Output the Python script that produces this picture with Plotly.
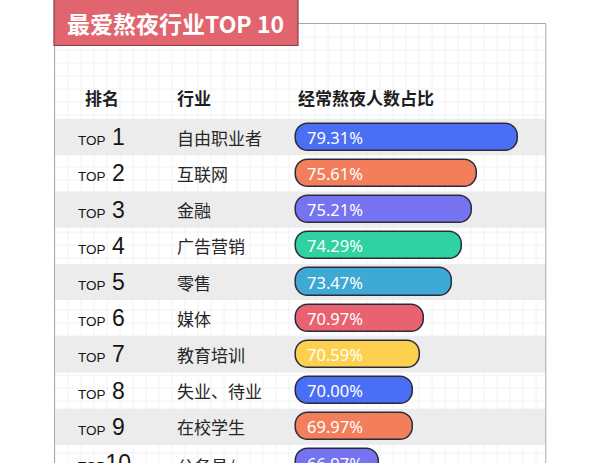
import plotly.graph_objects as go

# ---------------- data ----------------
ranks = [1, 2, 3, 4, 5, 6, 7, 8, 9, 10]
industries = ["自由职业者", "互联网", "金融", "广告营销", "零售", "媒体",
              "教育培训", "失业、待业", "在校学生", "公务员/事业单位"]
values = [79.31, 75.61, 75.21, 74.29, 73.47, 70.97, 70.59, 70.00, 69.97, 66.97]
title_text = "最爱熬夜行业TOP 10"
headers = ["排名", "行业", "经常熬夜人数占比"]

# ---------------- style ----------------
W, H = 600, 463
palette = ["#4A6EF4", "#F27E5C", "#7673F1", "#2FD2A0", "#3DA9D4", "#E8636F", "#FDD14F"]
bar_colors = [palette[i % len(palette)] for i in range(len(ranks))]
BASE = 59.5            # visual start of the bars (truncated axis)
XRANGE = [33.2, 86.6]
YRANGE = [10.0, -2.79]
CJK = "Noto Sans CJK SC"


def px(x):
    return x / W


def py(y):
    return 1 - y / H


fig = go.Figure()

fig.add_trace(go.Bar(
    y=ranks,
    x=[v - BASE for v in values],
    base=BASE,
    orientation="h",
    width=0.75,
    marker=dict(color=bar_colors, line=dict(color="#2A2B3D", width=1.5), cornerradius=13),
    customdata=values,
    hovertemplate="%{customdata:.2f}%<extra></extra>",
    showlegend=False,
))

shapes = []
# faint grid inside the card
step = 13
gx = 55
while gx < 546:
    shapes.append(dict(type="line", xref="paper", yref="paper", x0=px(gx), x1=px(gx),
                       y0=py(24), y1=py(H + 5), line=dict(color="#F2F2F2", width=1), layer="below"))
    gx += step
gy = 24 + step
while gy < H + 5:
    shapes.append(dict(type="line", xref="paper", yref="paper", x0=px(55), x1=px(545),
                       y0=py(gy), y1=py(gy), line=dict(color="#F2F2F2", width=1), layer="below"))
    gy += step

# alternating row bands
for r in ranks:
    if r % 2 == 1:
        shapes.append(dict(type="rect", xref="paper", yref="y", x0=px(55), x1=px(545.5),
                           y0=r - 0.5, y1=r + 0.5, fillcolor="#ECECEC", line=dict(width=0),
                           layer="below"))

# card border
shapes.append(dict(type="rect", xref="paper", yref="paper", x0=px(54.5), x1=px(545.8),
                   y0=py(23.5), y1=py(H + 10), line=dict(color="#A9A9A9", width=1),
                   fillcolor="rgba(0,0,0,0)", layer="above"))
# title banner
shapes.append(dict(type="rect", xref="paper", yref="paper", x0=px(54), x1=px(298),
                   y0=py(-3), y1=py(45.5), fillcolor="#E0656F",
                   line=dict(color="#8E3C44", width=1.2), layer="above"))

annotations = []
annotations.append(dict(text="<b>" + title_text + "</b>", xref="paper", yref="paper",
                        x=px(175), y=py(22.5), showarrow=False, xanchor="center", yanchor="middle",
                        font=dict(family=CJK, size=23, color="#FFFFFF")))

header_x = [83, 175, 296]
for hx, ht in zip(header_x, headers):
    annotations.append(dict(text="<b>" + ht + "</b>", xref="paper", yref="paper",
                            x=px(hx), y=py(97), showarrow=False, xanchor="left", yanchor="middle",
                            font=dict(family=CJK, size=17, color="#1E1E1E")))

for r, name, v in zip(ranks, industries, values):
    annotations.append(dict(
        text="<span style='font-size:13.5px'>TOP</span><span style='font-size:23px'> " + str(r) + "</span>"
        if r < 10 else
        "<span style='font-size:13.5px'>TOP</span><span style='font-size:23px'>" + str(r) + "</span>",
        xref="paper", yref="y", x=px(76), y=r, showarrow=False, xanchor="left", yanchor="middle",
        font=dict(family="Liberation Sans", size=23, color="#151515")))
    if "/" in name:
        a, b = name.split("/", 1)
        annotations.append(dict(text=a + "/<br>" + b, xref="paper", yref="y", x=px(175), y=r,
                                yshift=12, showarrow=False, xanchor="left", yanchor="top",
                                align="left", font=dict(family=CJK, size=17, color="#262626")))
    else:
        annotations.append(dict(text=name, xref="paper", yref="y", x=px(175), y=r,
                                showarrow=False, xanchor="left", yanchor="middle",
                                font=dict(family=CJK, size=17, color="#262626")))
    annotations.append(dict(text=f"{v:.2f}%", xref="x", yref="y", x=BASE, y=r, xshift=9,
                            showarrow=False, xanchor="left", yanchor="middle",
                            font=dict(family="Noto Sans", size=16.5, color="#FFFFFF")))

fig.update_layout(
    width=W, height=H, autosize=False,
    margin=dict(l=0, r=0, t=0, b=0, pad=0),
    paper_bgcolor="#FFFFFF", plot_bgcolor="rgba(0,0,0,0)",
    xaxis=dict(range=XRANGE, visible=False, fixedrange=True),
    yaxis=dict(range=YRANGE, visible=False, fixedrange=True),
    shapes=shapes, annotations=annotations,
    bargap=0,
)

fig.write_html("out.html", config={"displayModeBar": False},
               post_script="document.body.style.margin='0';document.body.style.overflow='hidden';")
